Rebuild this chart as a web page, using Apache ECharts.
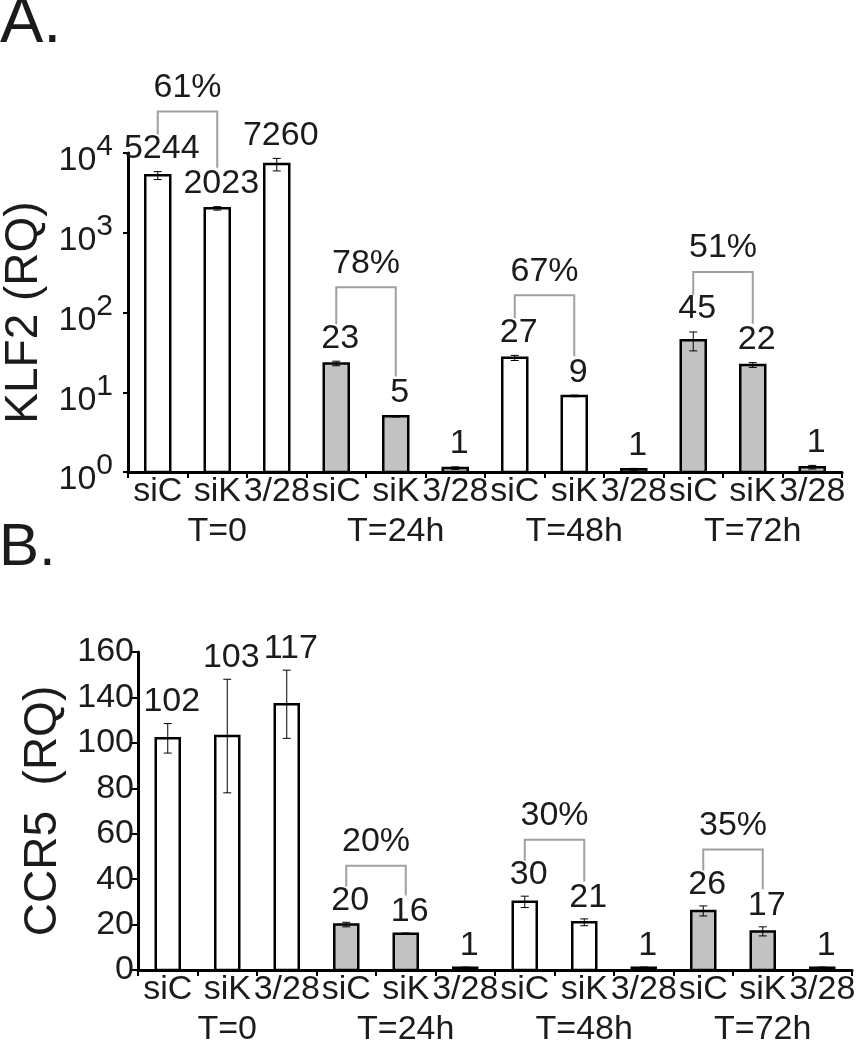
<!DOCTYPE html>
<html>
<head>
<meta charset="utf-8">
<script src="https://cdn.jsdelivr.net/npm/echarts@6.0.0/dist/echarts.min.js"></script>
<style>
html,body{margin:0;padding:0;background:#fff;}
#c{width:868px;height:1050px;}
</style>
</head>
<body>
<div id="c"></div>
<script>
// ---- data ----
const categories = ['siC','siK','3/28','siC','siK','3/28','siC','siK','3/28','siC','siK','3/28'];
const groups = ['T=0','T=24h','T=48h','T=72h'];

const klf2Values = [5244, 2023, 7260, 23, 5, 1.12, 27, 9, 1.08, 45, 22, 1.15];
const klf2Errors = [600, 100, 1300, 1.5, 0.1, 0.04, 2, 0.2, 0.03, 12, 1.5, 0.06];
const klf2Labels = ['5244','2023','7260','23','5','1','27','9','1','45','22','1'];
const klf2Brackets = [[0, 1, '61%'], [3, 4, '78%'], [6, 7, '67%'], [9, 10, '51%']];
const klf2TickExponents = ['0','1','2','3','4'];

const ccr5Values = [102, 103, 117, 20, 16, 1, 30, 21, 1, 26, 17, 1];
const ccr5Errors = [6.5, 25, 15, 1, 0.3, 0.3, 2.5, 1.5, 0.3, 2.2, 2, 0.3];
const ccr5Labels = ['102','103','117','20','16','1','30','21','1','26','17','1'];
const ccr5Brackets = [[3, 4, '20%'], [6, 7, '30%'], [9, 10, '35%']];
const ccr5TickLabels = ['0','20','40','60','80','100','140','160'];

// ---- style ----
const FONT = "'Liberation Sans', Arial, Helvetica, sans-serif";
const TEXT = '#1c1a1b';
const FILLS = ['#ffffff', '#c2c2c2', '#ffffff', '#c2c2c2'];

function makeRender(values, errors, labels, brackets, cfg) {
  return function (params, api) {
    const i = params.dataIndex;
    const v = values[i], e = errors[i];
    const p = api.coord([i, v]);
    const b = api.coord([i, cfg.base]);
    const cx = p[0];
    const errTopY = k => api.coord([k, values[k] + errors[k]])[1];
    const labelTop = k => errTopY(k) - cfg.labelGap - cfg.capH;
    const ch = [];
    ch.push({
      type: 'rect',
      shape: { x: cx - cfg.barW / 2, y: p[1], width: cfg.barW, height: b[1] - p[1] },
      style: { fill: FILLS[Math.floor(i / 3)], stroke: '#000', lineWidth: cfg.barLW }
    });
    const et = errTopY(i);
    const eb = api.coord([i, v - e])[1];
    const es = { stroke: '#000', lineWidth: 1 };
    ch.push({ type: 'line', shape: { x1: cx, y1: et, x2: cx, y2: eb }, style: es });
    ch.push({ type: 'line', shape: { x1: cx - 4, y1: et, x2: cx + 4, y2: et }, style: es });
    ch.push({ type: 'line', shape: { x1: cx - 4, y1: eb, x2: cx + 4, y2: eb }, style: es });
    ch.push({
      type: 'text', x: cx + cfg.labelDx, y: et - cfg.labelGap - cfg.capH / 2,
      style: { text: labels[i], fontSize: 34, fontFamily: FONT, fill: TEXT, align: 'center', verticalAlign: 'middle' }
    });
    const br = brackets.find(q => q[0] === i);
    if (br) {
      const r = br[1];
      const rx = api.coord([r, values[r]])[0];
      const lt = labelTop(i), rt = labelTop(r);
      const top = Math.min(lt, rt) - cfg.bracketGap - (cfg.bracketLift[i] || 0);
      ch.push({
        type: 'polyline',
        shape: { points: [[cx, lt - 2], [cx, top], [rx, top], [rx, rt - 4]] },
        style: { stroke: '#a0a0a0', lineWidth: 2, fill: null }
      });
      ch.push({
        type: 'text', x: (cx + rx) / 2, y: top - 12 - cfg.capH / 2,
        style: { text: br[2], fontSize: 34, fontFamily: FONT, fill: TEXT, align: 'center', verticalAlign: 'middle' }
      });
    }
    return { type: 'group', children: ch };
  };
}

function xAxisCfg(gridIndex) {
  return {
    type: 'category', gridIndex: gridIndex, data: categories, boundaryGap: true,
    axisLine: { show: true, lineStyle: { color: '#000', width: 3 } },
    axisTick: { show: true, length: 6, interval: 0, alignWithLabel: false, lineStyle: { color: '#000', width: 2 } },
    axisLabel: {
      interval: 0, margin: 0, fontSize: 34, lineHeight: 40, fontFamily: FONT, color: TEXT,
      formatter: (val, idx) => idx % 3 === 1 ? val + '\n' + groups[Math.floor(idx / 3)] : val
    },
    splitLine: { show: false }
  };
}

const chart = echarts.init(document.getElementById('c'));
chart.setOption({
  animation: false,
  backgroundColor: '#fff',
  grid: [
    { left: 128, top: 153, width: 714, height: 319, containLabel: false, outerBoundsMode: 'none' },
    { left: 138, top: 652, width: 714, height: 318, containLabel: false, outerBoundsMode: 'none' }
  ],
  xAxis: [xAxisCfg(0), xAxisCfg(1)],
  yAxis: [
    {
      type: 'log', gridIndex: 0, logBase: 10, min: 1, max: 10000,
      name: 'KLF2 (RQ)', nameLocation: 'middle', nameGap: 72,
      nameTextStyle: { fontSize: 46, fontFamily: FONT, color: TEXT },
      axisLine: { show: true, lineStyle: { color: '#000', width: 3 } },
      axisTick: { show: true, length: 5, lineStyle: { color: '#000', width: 2 } },
      minorTick: { show: false },
      splitLine: { show: false },
      axisLabel: {
        margin: 15, color: TEXT, fontFamily: FONT,
        formatter: v => '{b|10}{s|' + klf2TickExponents[Math.round(Math.log10(v))] + '}',
        rich: {
          b: { fontSize: 34, fontFamily: FONT, color: TEXT, lineHeight: 34, padding: [16, 0, 0, 0] },
          s: { fontSize: 30, fontFamily: FONT, color: TEXT, lineHeight: 30, padding: [4, 0, 16, 0] }
        }
      }
    },
    {
      type: 'value', gridIndex: 1, min: 0, max: 140, interval: 20,
      name: 'CCR5  (RQ)', nameLocation: 'middle', nameGap: 72,
      nameTextStyle: { fontSize: 46, fontFamily: FONT, color: TEXT },
      axisLine: { show: true, lineStyle: { color: '#000', width: 3 } },
      axisTick: { show: true, length: 6, lineStyle: { color: '#000', width: 2 } },
      splitLine: { show: false },
      axisLabel: {
        margin: 4, fontSize: 34, fontFamily: FONT, color: TEXT,
        formatter: v => ccr5TickLabels[Math.round(v / 20)]
      }
    }
  ],
  series: [
    {
      type: 'custom', xAxisIndex: 0, yAxisIndex: 0,
      data: klf2Values.map((v, i) => [i, v]),
      renderItem: makeRender(klf2Values, klf2Errors, klf2Labels, klf2Brackets,
        { base: 1, barW: 25, barLW: 2.5, labelGap: 11, capH: 24, labelDx: 4, bracketGap: 25, bracketLift: { 3: 14 } })
    },
    {
      type: 'custom', xAxisIndex: 1, yAxisIndex: 1,
      data: ccr5Values.map((v, i) => [i, v]),
      renderItem: makeRender(ccr5Values, ccr5Errors, ccr5Labels, ccr5Brackets,
        { base: 0, barW: 24, barLW: 2.5, labelGap: 9.5, capH: 24, labelDx: 4, bracketGap: 23, bracketLift: {} })
    }
  ],
  graphic: [
    { type: 'text', x: 0, y: 24, style: { text: 'A.', fontSize: 65, fontFamily: FONT, fill: TEXT, align: 'left', verticalAlign: 'middle' } },
    { type: 'text', x: -1, y: 548, style: { text: 'B.', fontSize: 60, fontFamily: FONT, fill: TEXT, align: 'left', verticalAlign: 'middle' } }
  ]
});
</script>
</body>
</html>
